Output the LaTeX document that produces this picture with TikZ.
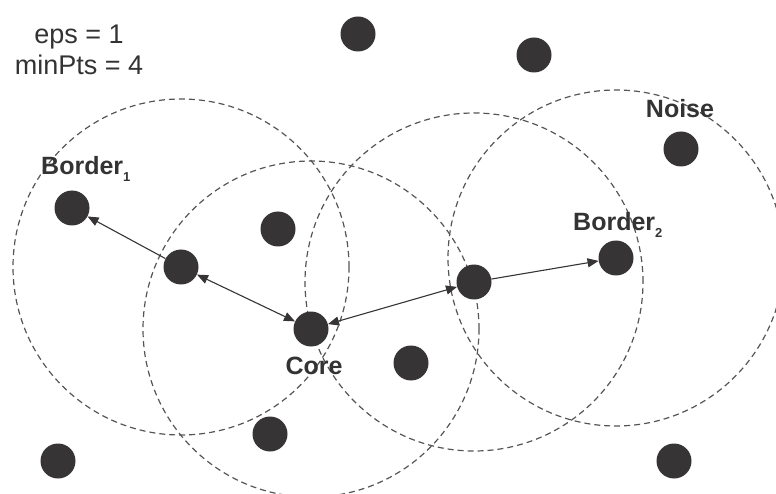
\documentclass[tikz,border=0pt]{standalone}
\usepackage{fontspec}
\setmainfont{Liberation Sans}
\usetikzlibrary{arrows.meta,backgrounds}
\definecolor{dotc}{HTML}{363435}
\definecolor{dashc}{HTML}{555555}
\definecolor{txtc}{HTML}{333333}
\tikzset{
  dot/.style={circle,fill=dotc,minimum size=35pt,inner sep=0pt,draw=none},
  epsring/.style={draw=dashc,line width=1.2pt,dash pattern=on 6pt off 4pt},
  link/.style={draw=dotc,line width=1.1pt},
  tip/.tip={Triangle[length=11pt,width=9pt]},
  lbl/.style={text=txtc,font=\fontsize{25}{28}\selectfont\bfseries,inner sep=0pt},
  info/.style={text=txtc,font=\fontsize{27}{31}\selectfont,inner sep=0pt,align=center}
}
\newcommand{\subidx}[1]{{\fontsize{13}{13}\selectfont\raisebox{-7pt}{#1}}}
\begin{document}
\begin{tikzpicture}[x=1pt,y=-1pt]
\useasboundingbox (0,0) rectangle (776,494);
% dots
\node[dot] (t1) at (358,34) {};
\node[dot] (t2) at (534,55) {};
\node[dot] (noise) at (681,149) {};
\node[dot] (border1) at (72,208) {};
\node[dot] (m1) at (278,229) {};
\node[dot] (a) at (181,267) {};
\node[dot] (core) at (311,329) {};
\node[dot] (b) at (474,282) {};
\node[dot] (border2) at (616,258) {};
\node[dot] (m2) at (411,363) {};
\node[dot] (m3) at (270,434) {};
\node[dot] (bl) at (58,461) {};
\node[dot] (br) at (674,461) {};
% eps rings
\begin{scope}[on background layer]
\draw[epsring] (a.center) circle[radius=168pt];
\draw[epsring] (core.center) circle[radius=168pt];
\draw[epsring] (b.center) circle[radius=169pt];
\draw[epsring] (border2.center) circle[radius=168pt];
\end{scope}
% connectors
\draw[link,-tip] (a) -- (border1);
\draw[link,tip-tip] (a) -- (core);
\draw[link,tip-tip] (core) -- (b);
\draw[link,-tip] (b) -- (border2);
% labels
\node[info] (params) at (79,50) {eps = 1\\minPts = 4};
\node[lbl,anchor=base west] (lb1) at (41,175) {Border\subidx{1}};
\node[lbl,anchor=base] (lcore) at (314,374) {Core};
\node[lbl,anchor=base west] (lb2) at (573,231) {Border\subidx{2}};
\node[lbl,anchor=base] (lnoise) at (680,118) {Noise};
\end{tikzpicture}
\end{document}
